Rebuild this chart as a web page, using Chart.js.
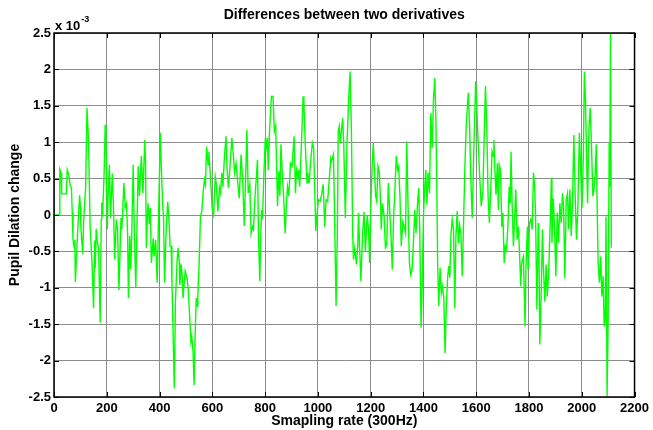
<!DOCTYPE html>
<html>
<head>
<meta charset="utf-8">
<script src="https://cdn.jsdelivr.net/npm/chart.js@4.4.0/dist/chart.umd.min.js"></script>
<style>
  html, body { margin: 0; padding: 0; background: #fff; }
  #wrap { width: 653px; height: 430px; }
</style>
</head>
<body>
<div id="wrap"><canvas id="diffChart" width="653" height="430"></canvas></div>
<script>
// sample index along the recording (x axis)
const sampleIdx = [
  0, 19, 22, 27, 29, 47, 50, 56, 62, 66, 69, 72, 78, 79, 81, 90, 97, 100, 102, 109,
  112, 120, 125, 131, 137, 144, 150, 154, 156, 160, 165, 169, 175, 179, 181, 184, 190, 194, 197, 202,
  205, 210, 214, 221, 225, 230, 236, 241, 246, 254, 257, 265, 270, 275, 279, 282, 287, 291, 295, 300,
  304, 310, 319, 324, 331, 337, 344, 347, 350, 356, 362, 365, 369, 376, 379, 385, 391, 397, 403, 407,
  412, 415, 419, 425, 431, 435, 440, 444, 447, 451, 456, 460, 466, 470, 475, 477, 482, 486, 489, 497,
  504, 509, 519, 522, 527, 531, 535, 539, 543, 545, 550, 555, 560, 565, 570, 574, 578, 584, 587, 594,
  600, 605, 611, 615, 621, 627, 631, 636, 640, 646, 652, 656, 661, 667, 674, 680, 684, 690, 696, 702,
  709, 715, 721, 727, 731, 736, 742, 747, 752, 756, 761, 767, 771, 775, 780, 784, 787, 790, 796, 801,
  805, 809, 812, 817, 824, 830, 835, 840, 844, 847, 852, 856, 860, 865, 870, 876, 881, 885, 890, 896,
  902, 910, 915, 919, 924, 927, 931, 936, 944, 947, 952, 959, 962, 967, 972, 979, 984, 987, 992, 996,
  1002, 1009, 1015, 1020, 1026, 1031, 1037, 1044, 1049, 1052, 1059, 1062, 1069, 1074, 1077, 1081, 1085, 1089, 1094, 1098,
  1104, 1110, 1116, 1122, 1127, 1132, 1135, 1140, 1146, 1151, 1154, 1158, 1163, 1169, 1175, 1180, 1187, 1192, 1196, 1201,
  1206, 1210, 1214, 1219, 1223, 1228, 1233, 1238, 1240, 1245, 1251, 1256, 1261, 1267, 1272, 1277, 1282, 1287, 1291, 1297,
  1302, 1306, 1311, 1316, 1322, 1327, 1332, 1337, 1342, 1347, 1352, 1357, 1363, 1367, 1372, 1377, 1382, 1386, 1391, 1395,
  1400, 1405, 1409, 1413, 1418, 1423, 1428, 1433, 1438, 1443, 1447, 1451, 1454, 1458, 1463, 1468, 1472, 1477, 1482, 1487,
  1492, 1496, 1500, 1504, 1509, 1514, 1519, 1523, 1528, 1533, 1537, 1542, 1547, 1552, 1557, 1562, 1570, 1575, 1580, 1585,
  1590, 1598, 1606, 1612, 1619, 1625, 1631, 1635, 1640, 1645, 1650, 1655, 1660, 1664, 1667, 1671, 1675, 1680, 1684, 1687,
  1692, 1697, 1701, 1706, 1710, 1715, 1720, 1725, 1729, 1732, 1736, 1741, 1745, 1750, 1755, 1760, 1765, 1769, 1772, 1779,
  1785, 1789, 1794, 1797, 1802, 1807, 1812, 1817, 1821, 1825, 1830, 1835, 1837, 1841, 1846, 1851, 1855, 1860, 1865, 1869,
  1874, 1879, 1885, 1887, 1892, 1897, 1902, 1907, 1912, 1917, 1922, 1927, 1931, 1936, 1941, 1946, 1950, 1955, 1960, 1965,
  1970, 1975, 1980, 1985, 1991, 1996, 2001, 2006, 2010, 2014, 2019, 2022, 2027, 2032, 2037, 2042, 2046, 2051, 2055, 2059,
  2062, 2067, 2072, 2076, 2081, 2085, 2089, 2092, 2096, 2100, 2104, 2106, 2109, 2112
];

// difference between the two derivatives, in units of 10^-3
const diffVals = [
  0, 0, 0.63, 0.58, 0.29, 0.29, 0.62, 0.55, 0.39, 0.38, 0.04, -0.34, -0.47, -0.34, -0.92, -0.2, 0.27, 0.12, -0.18, -0.54,
  -0.11, 0.39, 1.47, 0.99, -0.16, -0.66, -1.28, -0.35, -0.73, -0.19, -0.38, -0.47, -1.48, -0.06, 0.17, -0.02, 0.58, 1.24, 1.03, -0.2,
  0.26, 0.69, -0.04, 0.57, 0.16, -0.61, -0.06, -0.2, -1.03, -0.04, -0.2, 0.44, 0.1, 0.16, -0.27, -1.14, -0.29, -0.75, -0.2, 0.69,
  -0.16, -1.0, 0.67, 0.26, 0.81, 0.3, 1.03, 0.71, -0.45, 0.16, -0.13, 0.1, -0.66, -0.32, -0.57, -0.34, -0.93, 0.12, 1.13, 0.62,
  0.12, -0.02, -0.93, -0.2, 0.18, -0.02, -0.43, -0.43, -0.93, -1.58, -2.38, -1.21, -0.66, -0.45, -0.66, -0.96, -0.68, -0.84, -1.14, -0.77,
  -0.86, -1.03, -1.74, -1.67, -1.88, -2.34, -1.62, -1.14, -1.25, -1.12, -0.66, -0.02, 0.05, 0.3, 0.49, 0.42, 0.94, 0.69, 0.87, 0.44,
  0.07, 0.0, 0.53, 0.44, 0.05, 0.37, 0.3, 0.58, 0.39, 0.81, 1.08, 0.62, 0.37, 0.67, 1.06, 0.81, 0.58, 0.71, 0.46, 0.23,
  0.83, 0.49, -0.15, 0.62, 1.17, 0.3, 0.42, -0.25, -0.16, -0.2, 0.21, 0.53, 0.76, -0.3, -0.91, -0.2, 0.07, -0.06, 0.62, 1.06,
  0.94, 1.06, 0.62, 1.17, 1.63, 1.63, 1.15, 1.22, 0.62, 0.12, 0.6, 0.26, 0.97, 0.58, 0.26, -0.25, 0.16, 0.39, 0.26, 0.71,
  0.67, 1.08, 0.3, 0.62, 0.53, 0.62, 0.39, 0.81, 1.63, 1.54, 0.99, 0.44, 0.58, 0.44, 0.71, 0.99, 0.92, 0.53, -0.22, -0.02,
  0.21, 0.19, 0.3, 0.42, -0.16, 0.21, 0.19, 0.53, 0.78, 0.74, 0.83, 0.26, -1.25, -0.2, 1.15, 1.22, 0.99, 1.15, 1.33, 0.99,
  -0.04, 0.94, 1.54, 1.97, 1.17, -0.29, -0.61, -0.45, -0.68, -0.43, 0.03, -0.43, -0.91, -0.29, 0.04, -0.5, 0.0, -0.2, -0.66, 0.16,
  0.71, 0.99, 0.62, 0.26, 0.19, 0.67, 0.58, 0.14, -0.2, 0.16, -0.02, -0.45, -0.41, 0.44, 0.07, -0.29, -0.75, -0.02, 0.26, 0.81,
  0.62, 0.67, 0.26, -0.43, -0.09, -0.16, -0.25, 1.01, 0.07, -0.66, -0.82, -0.75, -0.3, 0.07, -0.25, 0.12, 0.37, -0.2, -1.55, -1.01,
  -0.02, 0.39, 0.62, 0.14, 0.58, 0.3, 1.4, 0.92, 1.58, 1.88, 1.35, 0.3, -0.7, -1.25, -0.73, -1.07, -0.98, -1.12, -1.9, -1.21,
  -0.84, -0.7, -0.86, -0.29, -0.06, -0.2, -1.28, -0.29, 0.05, -0.39, -0.14, -0.25, -0.84, -0.11, 0.65, 1.22, 1.68, 1.22, 0.44, -0.04,
  0.76, 1.84, 1.13, 0.62, 0.12, 0.3, 1.17, 1.77, 1.22, 0.26, -0.11, 0.35, 0.87, 0.81, 1.03, 0.62, 0.28, 0.71, 0.07, 0.69,
  0.62, -0.16, 0.03, -0.66, -0.43, -0.48, -0.16, 0.39, 0.16, 0.87, 0.16, -0.43, -0.11, 0.35, -0.34, -0.16, -0.61, -0.98, -0.66, -0.57,
  -1.53, -0.66, -0.16, -0.75, -0.11, -0.06, -0.2, 0.58, 0.44, -0.02, -1.3, -0.11, -0.2, -1.78, -1.12, -0.2, -0.75, -1.19, -0.68, -1.12,
  -0.84, -0.29, 0.51, -0.38, 0.23, -0.2, -0.84, 0.03, -0.38, 0.16, -0.11, 0.3, 0.12, -0.87, 0.21, 0.3, -0.2, 0.35, -0.29, 0.16,
  1.1, 0.26, -0.34, 0.07, 1.13, 0.62, 0.1, 0.81, 1.97, 1.58, 0.67, 0.16, 1.17, 1.47, 0.94, 0.26, 0.35, 0.58, 0.97, -0.02,
  -0.66, -0.93, -0.57, -1.12, -0.84, -1.53, -1.44, -0.02, -2.49, -1.44, 0.99, 0.39, 2.5, -0.45
];

const xTickMin = 0, xTickMax = 2200, xTickStep = 200;
const yTickMin = -2.5, yTickMax = 2.5, yTickStep = 0.5;

const tickFont = { family: "Liberation Sans, Arial, sans-serif", size: 13, weight: "bold" };
const labelFont = { family: "Liberation Sans, Arial, sans-serif", size: 14, weight: "bold" };
const gridColor = "#8c8c8c";

// MATLAB style: black box around the axes, small inward ticks and the "x 10^-3" multiplier
const matlabBox = {
  id: "matlabBox",
  afterDatasetsDraw(chart) {
    const { ctx, chartArea: a, scales } = chart;
    ctx.save();
    ctx.strokeStyle = "#000";
    ctx.lineWidth = 1;
    ctx.beginPath();
    scales.x.ticks.forEach((t) => {
      const px = Math.round(scales.x.getPixelForValue(t.value)) + 0.5;
      ctx.moveTo(px, a.bottom); ctx.lineTo(px, a.bottom - 5);
      ctx.moveTo(px, a.top); ctx.lineTo(px, a.top + 5);
    });
    scales.y.ticks.forEach((t) => {
      const py = Math.round(scales.y.getPixelForValue(t.value)) + 0.5;
      ctx.moveTo(a.left, py); ctx.lineTo(a.left + 5, py);
      ctx.moveTo(a.right, py); ctx.lineTo(a.right - 5, py);
    });
    ctx.stroke();
    ctx.lineWidth = 1.5;
    ctx.strokeRect(a.left, a.top, a.right - a.left, a.bottom - a.top);

    ctx.fillStyle = "#000";
    ctx.textBaseline = "alphabetic";
    ctx.textAlign = "left";
    ctx.font = "bold 13px Liberation Sans, Arial, sans-serif";
    ctx.fillText("x 10", a.left + 1, a.top - 3);
    const w = ctx.measureText("x 10").width;
    ctx.font = "bold 9px Liberation Sans, Arial, sans-serif";
    ctx.fillText("-3", a.left + 2 + w, a.top - 11);
    ctx.restore();
  },
};

new Chart(document.getElementById("diffChart"), {
  type: "line",
  data: {
    datasets: [
      {
        label: "Difference",
        data: sampleIdx.map((x, i) => ({ x: x, y: diffVals[i] })),
        borderColor: "#00ff00",
        borderWidth: 1.4,
        pointRadius: 0,
        tension: 0,
        fill: false,
      },
    ],
  },
  options: {
    responsive: false,
    animation: false,
    events: [],
    layout: { padding: { left: 0, right: 17, top: 0, bottom: 0 } },
    plugins: {
      legend: { display: false },
      tooltip: { enabled: false },
      title: {
        display: true,
        text: "Differences between two derivatives",
        color: "#000",
        fullSize: false,
        font: labelFont,
        padding: { top: 6.6, bottom: 9.6 },
      },
    },
    scales: {
      x: {
        type: "linear",
        min: xTickMin,
        max: xTickMax,
        afterFit: (scale) => { scale.height = 33; },
        ticks: {
          stepSize: xTickStep,
          color: "#000",
          font: tickFont,
          padding: 4,
          maxRotation: 0,
          callback: (v) => String(v),
        },
        grid: { color: gridColor, lineWidth: 1, drawTicks: false, tickLength: 0 },
        border: { display: false },
        title: {
          display: true,
          text: "Smapling rate (300Hz)",
          color: "#000",
          font: labelFont,
          padding: { top: 0, bottom: 0 },
        },
      },
      y: {
        min: yTickMin,
        max: yTickMax,
        afterFit: (scale) => { scale.width = 54; },
        ticks: {
          stepSize: yTickStep,
          color: "#000",
          font: tickFont,
          padding: 3,
          callback: (v) => String(Math.round(v * 10) / 10),
        },
        grid: { color: gridColor, lineWidth: 1, drawTicks: false, tickLength: 0 },
        border: { display: false },
        title: {
          display: true,
          text: "Pupil Dilation change",
          color: "#000",
          font: labelFont,
          padding: { top: 7, bottom: 0 },
        },
      },
    },
  },
  plugins: [matlabBox],
});
</script>
</body>
</html>
